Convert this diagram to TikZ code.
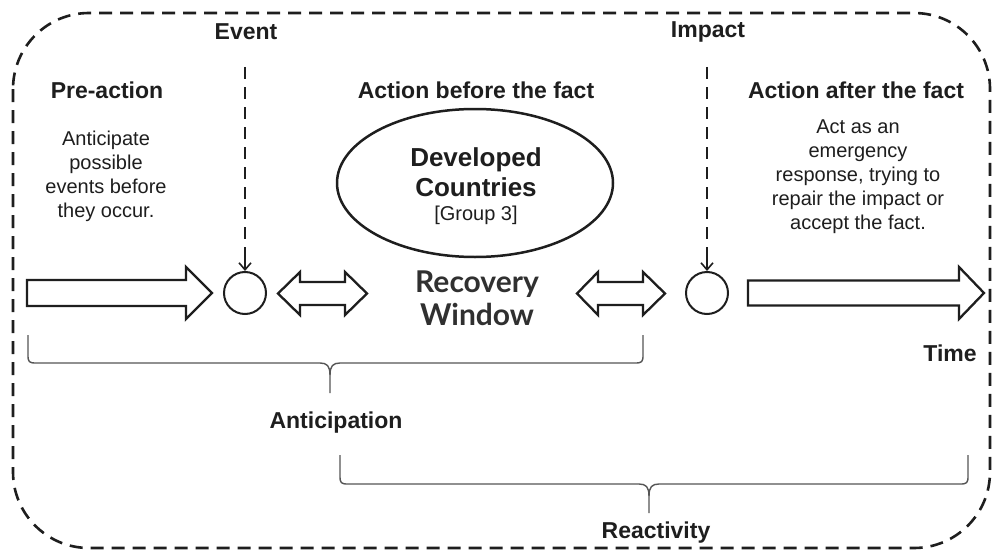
\documentclass[tikz,border=0pt]{standalone}
\usepackage{fontspec}
\setmainfont{Liberation Sans}
\newfontfamily\latofont{Lato}
\usetikzlibrary{arrows.meta}
\definecolor{ink}{HTML}{1E1E1E}
\definecolor{bracegray}{HTML}{555555}
\definecolor{recov}{HTML}{303030}
\newcommand\drawbrace[6]{%
  \draw[bracestyle] (#1,#4) -- (#1,#5-8) .. controls (#1,#5-1) and (#1+1,#5) .. (#1+8,#5)
     -- (#3-10,#5) .. controls (#3-3,#5) and (#3,#5+3) .. (#3,#5+12) -- (#3,#6);
  \draw[bracestyle] (#3,#5+12) .. controls (#3,#5+3) and (#3+3,#5) .. (#3+10,#5)
     -- (#2-8,#5) .. controls (#2-1,#5) and (#2,#5-1) .. (#2,#5-8) -- (#2,#4);}
\begin{document}
\begin{tikzpicture}[x=1pt,y=-1pt,
  lbl/.style={font=\fontsize{23}{27}\selectfont\bfseries, inner sep=0, text=ink},
  bodytext/.style={font=\fontsize{20}{24}\selectfont, align=center, inner sep=0, text=ink},
  frame/.style={draw=ink, line width=2.6pt, dash pattern=on 13pt off 8pt, rounded corners=76pt},
  evline/.style={draw=ink, line width=2.2pt, dash pattern=on 12pt off 8pt},
  evarrow/.style={draw=ink, line width=1.6pt, -{Straight Barb[length=7pt,width=12pt,line width=1.6pt]}},
  ring/.style={circle, draw=ink, line width=2pt, minimum size=42pt, inner sep=0},
  arrowshape/.style={draw=ink, line width=2.3pt, line join=miter},
  bracestyle/.style={draw=bracegray, line width=1.4pt},
  blob/.style={draw=ink, line width=2.5pt}
]
\useasboundingbox (0,0) rectangle (993,551);
\fill[white] (0,0) rectangle (993,551);

% outer dashed frame
\draw[frame] (13,13) rectangle (990,548);

% headings
\node[lbl] (event) at (246,32) {Event};
\node[lbl] (impact) at (708,32) {Impact};
\node[lbl] (pre) at (107,90) {Pre-action};
\node[lbl] (before) at (476,90) {Action before the fact};
\node[lbl] (after) at (856,90) {Action after the fact};

% body texts
\node[bodytext] (pretext) at (106,176) {Anticipate\\possible\\events before\\they occur.};
\node[bodytext] (aftertext) at (858,177) {Act as an\\emergency\\response, trying to\\repair the impact or\\accept the fact.};

% ellipse
\draw[blob] (475,183) ellipse [x radius=138, y radius=74];
\node[inner sep=0, align=center, text=ink, font=\fontsize{26}{30}\selectfont\bfseries] (dev) at (476,172) {Developed\\Countries};
\node[inner sep=0, text=ink, font=\fontsize{20}{24}\selectfont] (grp) at (476,215) {[Group 3]};

% recovery window
\node[inner sep=0, align=center, text=recov, font=\latofont\bfseries\fontsize{30}{33}\selectfont] (recovery) at (477,298) {Recovery\\Window};

% circles
\node[ring] (c1) at (245,293) {};
\node[ring] (c2) at (707,293) {};

% event / impact dashed connectors
\coordinate (e1top) at (245,67);
\coordinate (e1mid) at (245,250);
\coordinate (e2top) at (707,67);
\coordinate (e2mid) at (707,250);
\draw[evline] (e1top) -- (e1mid);
\draw[evarrow] (e1mid) -- (c1);
\draw[evline] (e2top) -- (e2mid);
\draw[evarrow] (e2mid) -- (c2);

% big arrows
\draw[arrowshape] (27,280) -- (186,280) -- (186,267) -- (212,293) -- (186,319) -- (186,306) -- (27,306) -- cycle;
\draw[arrowshape] (748,280.5) -- (959,280.5) -- (959,267) -- (984,293) -- (959,319) -- (959,305.5) -- (748,305.5) -- cycle;

% double arrows
\draw[arrowshape] (278,293.5) -- (300,272) -- (300,282) -- (345,282) -- (345,272) -- (367,293.5) -- (345,315) -- (345,305) -- (300,305) -- (300,315) -- cycle;
\draw[arrowshape] (577,293.5) -- (598,272) -- (598,282) -- (643,282) -- (643,272) -- (665,293.5) -- (643,315) -- (643,305) -- (598,305) -- (598,315) -- cycle;

% time
\node[lbl] (time) at (950,353) {Time};

% braces
\drawbrace{28}{643}{330}{335}{363}{393}
\node[lbl] (antic) at (336,423) {Anticipation};
\drawbrace{340}{968}{649}{455}{484}{513}
\node[lbl] (react) at (656,533) {Reactivity};
\end{tikzpicture}
\end{document}
